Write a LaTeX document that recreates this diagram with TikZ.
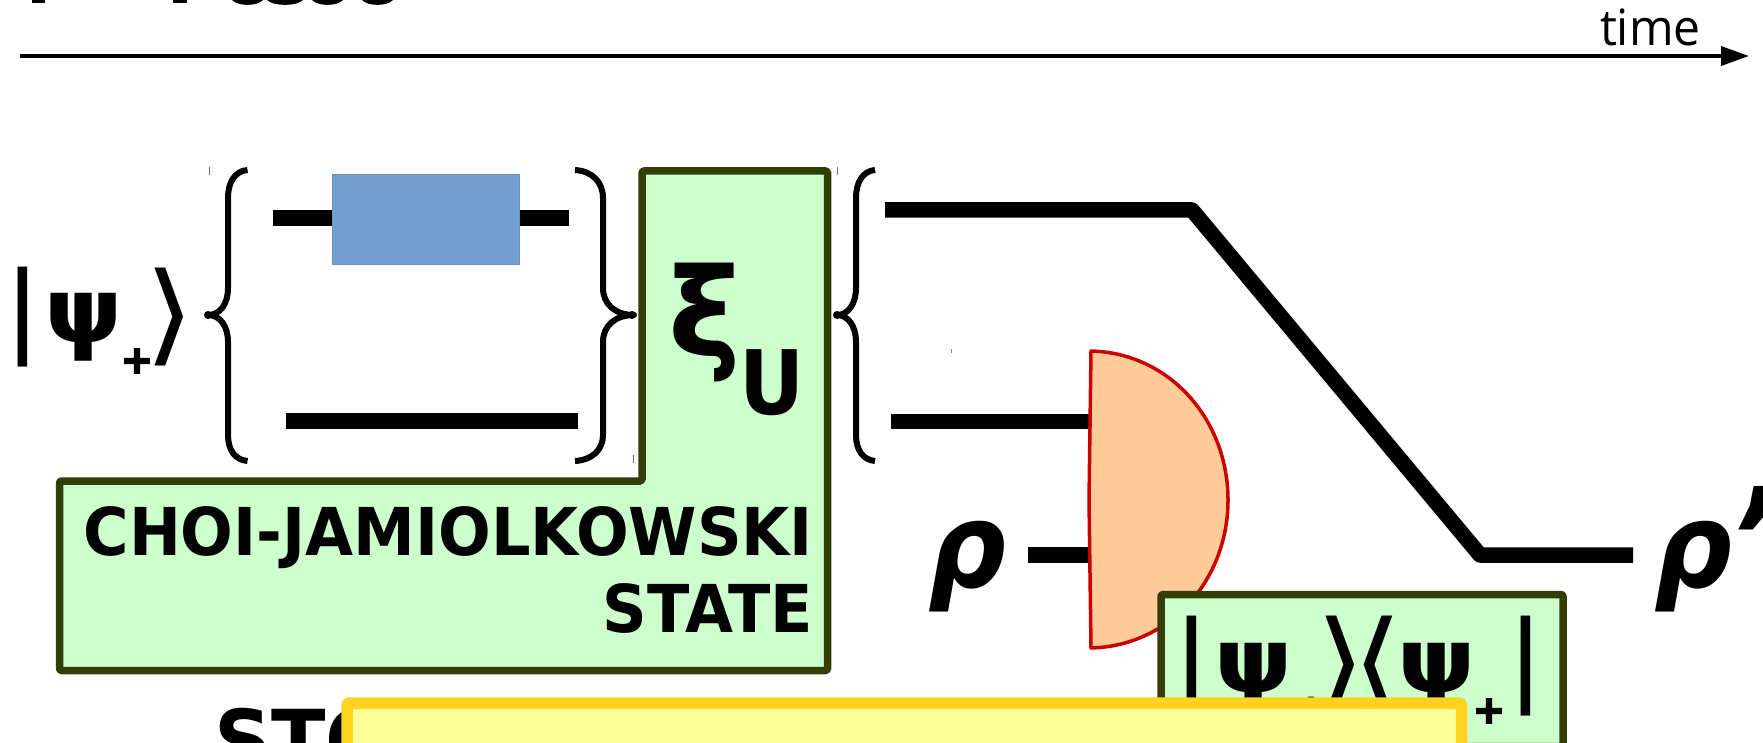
\documentclass[tikz,border=0pt]{standalone}
\usepackage{fontspec}
\setmainfont{DejaVu Sans}
\newfontfamily\opens{Open Sans}
\newfontfamily\heavyf[BoldFeatures={FakeBold=5}]{DejaVu Sans}
\usetikzlibrary{arrows.meta}
\definecolor{oliveline}{HTML}{333D06}
\definecolor{greenfill}{HTML}{CCFFCC}
\definecolor{bluefill}{HTML}{729FCF}
\definecolor{blueline}{HTML}{6A92C4}
\definecolor{peachfill}{HTML}{FFCC99}
\definecolor{redline}{HTML}{CC0000}
\definecolor{yellowfill}{HTML}{FFFF99}
\definecolor{yellowline}{HTML}{FFD320}
\newcommand{\sz}[1]{\fontsize{#1}{#1}\selectfont}
\newcommand{\wbar}{\scalebox{1.15}[1]{|}}
\newcommand{\wket}{\scalebox{1.3}[1.1]{⟩}}
\newcommand{\wbra}{\scalebox{1.3}[1.1]{⟨}}
\newcommand{\wpsi}{\scalebox{1.1}[1]{ψ}}
\tikzset{
  wire/.style={line width=15.5pt,line join=round},
  curly/.style={line width=6pt,line join=round},
  greenbox/.style={draw=oliveline,fill=greenfill,line width=7.5pt,line join=round},
  tick/.style={line width=1pt,draw=black!55},
  glyph/.style={inner sep=0pt,outer sep=0pt,anchor=base west},
  boldg/.style={glyph,font=\bfseries\sz{#1}},
  plusg/.style={glyph,font=\heavyf\bfseries\sz{38}},
  thing/.style={glyph,font=\sz{#1}},
}
\begin{document}
\begin{tikzpicture}[x=1pt,y=-1pt]
\clip (0,0) rectangle (1763,743);
% cut-off letter bottoms at the top edge
\fill (32,0) rectangle (45,3);
\fill (173,0) rectangle (187,3);
\fill (232,0) .. controls (238,6.5) and (257,6.5) .. (263,0) -- cycle;
\fill (267,0) .. controls (273,6.5) and (297,6.5) .. (303,0) -- cycle;
\fill (312,0) .. controls (318,6.5) and (337,6.5) .. (343,0) -- cycle;
\fill (362,0) .. controls (368,6.5) and (387,6.5) .. (393,0) -- cycle;
% time axis
\coordinate (axisL) at (20,56);
\coordinate (axisR) at (1749,56);
\draw[line width=3.5pt,-{Triangle[length=28pt,width=19pt]}] (axisL) -- (axisR);
\node[glyph,font=\opens\sz{50}] (timelabel) at (1600,46) {\scalebox{.96}[1]{time}};
% wires
\coordinate (w1a) at (273,218);
\coordinate (w1b) at (569,218);
\coordinate (w2a) at (286,421);
\coordinate (w2b) at (578,421);
\coordinate (w3a) at (885,210);
\coordinate (w3b) at (1192,210);
\coordinate (w3c) at (1480,555);
\coordinate (w3d) at (1633,555);
\coordinate (w4a) at (891,421.5);
\coordinate (m1) at (1090,421.5);
\coordinate (w5a) at (1028,555);
\coordinate (m2) at (1090,555);
\draw[wire] (w1a) -- (w1b);
\draw[wire] (w2a) -- (w2b);
\draw[wire] (w3a) -- (w3b) -- (w3c) -- (w3d);
\draw[wire] (w4a) -- (m1);
\draw[wire] (w5a) -- (m2);
% unitary box
\node[draw=blueline,fill=bluefill,line width=1pt,minimum width=187pt,minimum height=89.5pt,inner sep=0pt] (unitary) at (425.5,219.5) {};
% braces
\draw[curly] (247.5,170) .. controls (235,171) and (228,182) .. (228,198) -- (228,288)
  .. controls (228,304) and (220,315) .. (208,315)
  .. controls (220,315) and (228,326) .. (228,342) -- (228,435)
  .. controls (228,450) and (235,460) .. (247.5,461);
\fill (208,315) circle (4pt);
\draw[curly] (575,170) .. controls (592,171) and (603,182) .. (603,198) -- (603,288)
  .. controls (603,304) and (615,315) .. (634,315)
  .. controls (615,315) and (603,326) .. (603,342) -- (603,435)
  .. controls (603,450) and (592,460) .. (575,461);
\fill (632,315) circle (4pt);
\draw[curly] (875,170) .. controls (863,171) and (856,182) .. (856,198) -- (856,288)
  .. controls (856,304) and (848,315) .. (837,315)
  .. controls (848,315) and (856,326) .. (856,342) -- (856,435)
  .. controls (856,450) and (863,460) .. (875,461);
\fill (837,315) circle (4pt);
\draw[tick] (209,167) -- (209,175);
\draw[tick] (633,455) -- (633,463);
\draw[tick] (837,167) -- (837,175);
\draw[line width=1pt,draw=redline!60] (951.5,349) -- (951.5,353);
% ket at the left
\node[thing=100] (barL) at (3,343) {\wbar};
\node[boldg=90] (psiL) at (44,342) {\wpsi};
\node[plusg] (plusL) at (121,373) {+};
\node[thing=100] (ketL) at (144,351) {\wket};
% L-shaped green box
\draw[greenbox,rounded corners=1.5pt] (642,171) -- (827.5,171) -- (827.5,670.5) -- (59.5,670.5) -- (59.5,481) -- (642,481) -- cycle;
\node[boldg=123] (xi) at (668,356) {ξ};
\node[glyph,font=\bfseries\sz{89}] (usub) at (739,414) {\scalebox{.9}[1]{U}};
\node[inner sep=0pt,outer sep=0pt,anchor=base east,font=\bfseries\fontsize{66}{77}\selectfont] (choi) at (813,632) {\scalebox{.94}[1]{\begin{tabular}[b]{@{}r@{}}CHOI-JAMIOLKOWSKI\\STATE\end{tabular}}};
% rho labels
\node[glyph,font=\bfseries\itshape\sz{118}] (rhoL) at (928,587) {\scalebox{.92}[1]{ρ}};
\node[glyph,font=\bfseries\itshape\sz{118}] (rhoR) at (1654,587) {\scalebox{.92}[1]{ρ}\kern-3pt\raisebox{-1pt}{\sz{140}’}};
% measurement
\path[draw=redline,fill=peachfill,line width=3.5pt,line join=round]
  (1091,351) .. controls (1170,353) and (1228,420) .. (1228,500)
  .. controls (1228,580) and (1170,646) .. (1091,648)
  -- (1089,500) -- cycle;
% small green box
\node[greenbox,rounded corners=1.5pt,minimum width=402pt,minimum height=152pt,inner sep=0pt] (projector) at (1362,670.5) {};
\node[thing=100] (barA) at (1172,692) {\wbar};
\node[boldg=90] (psiA) at (1214,692) {\wpsi};
\node[plusg] (plusA) at (1295,721.5) {+};
\node[thing=100] (ketA) at (1315,699) {\wket};
\node[thing=100] (braA) at (1352,699) {\wbra};
\node[boldg=90] (psiB) at (1397,692) {\wpsi};
\node[plusg] (plusB) at (1473,723) {+};
\node[thing=100] (barB) at (1506,692) {\wbar};
% STO text and yellow box
\node[boldg=84] (sto) at (214,770) {\scalebox{.95}[1]{STO}};
\draw[draw=yellowline,fill=yellowfill,line width=11.5pt,line join=round,rounded corners=1.5pt] (347,790) -- (347,703) -- (1461.5,703) -- (1461.5,790) -- cycle;
\end{tikzpicture}
\end{document}
